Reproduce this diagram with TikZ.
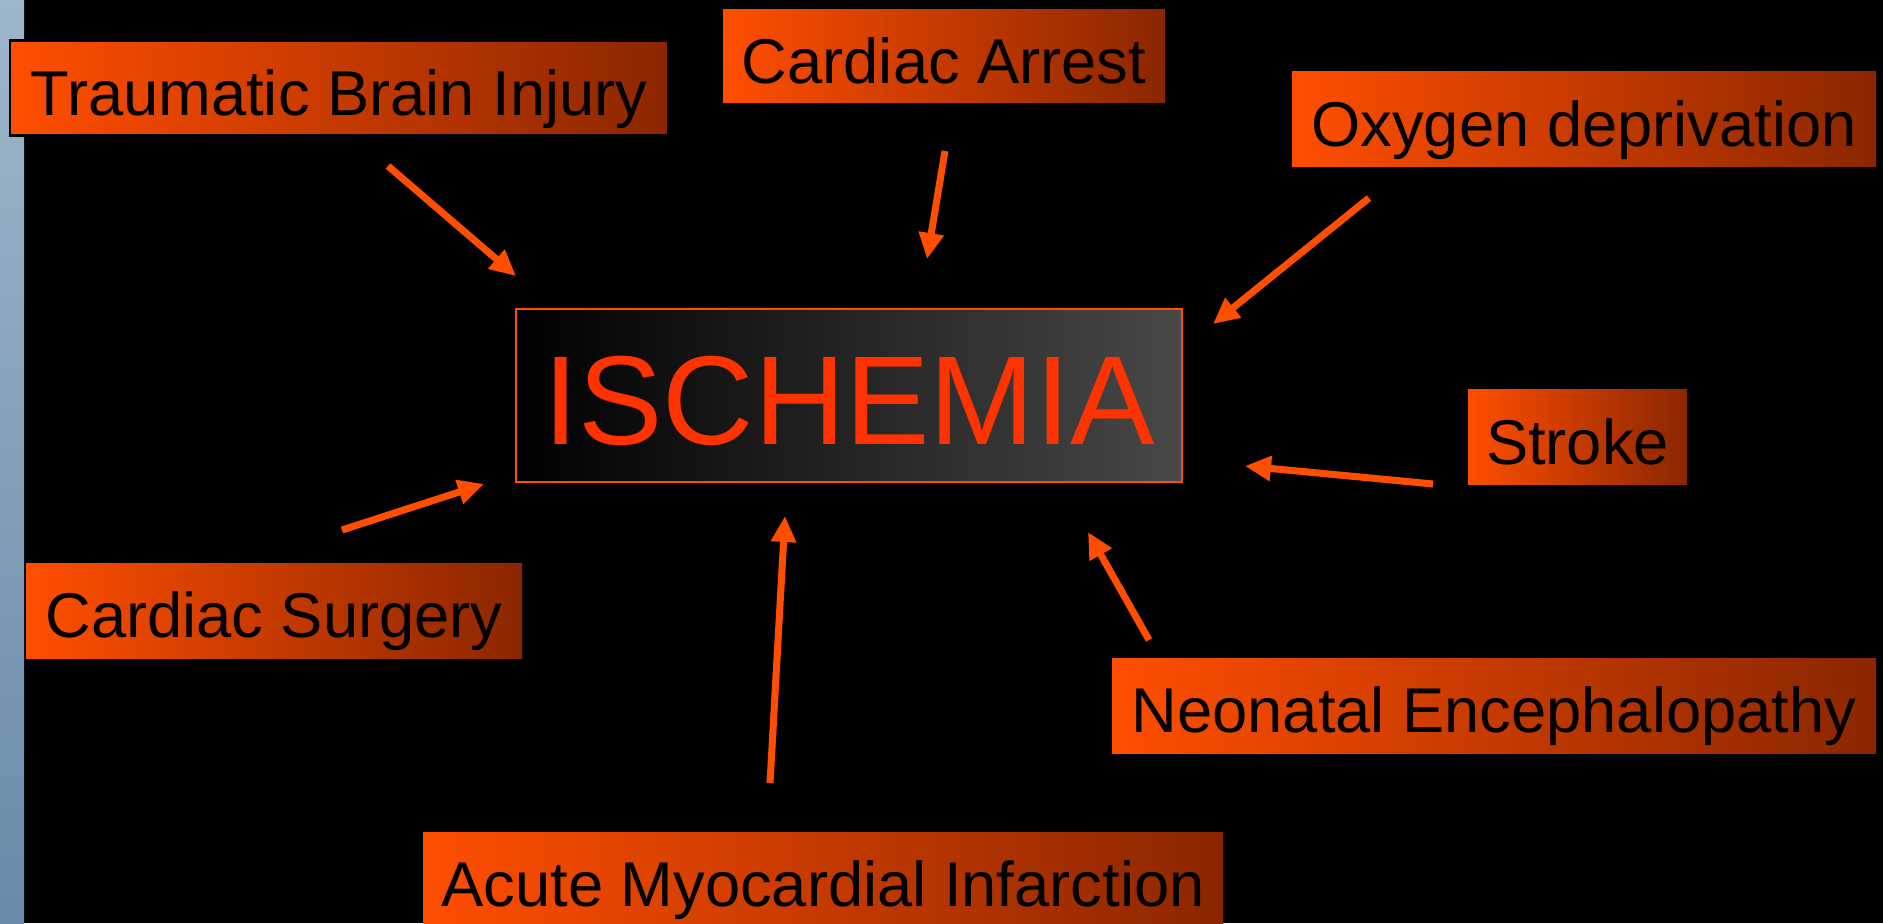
\documentclass[tikz,border=0pt]{standalone}
\usepackage{fontspec}
\setmainfont{Liberation Sans}
\usetikzlibrary{arrows.meta}

\definecolor{boxL}{RGB}{255,78,0}
\definecolor{boxR}{RGB}{139,38,0}
\definecolor{arrowC}{RGB}{255,78,0}
\definecolor{ischC}{RGB}{255,51,0}
\definecolor{ischR}{RGB}{72,72,72}
\definecolor{stripT}{RGB}{158,182,202}
\definecolor{stripB}{RGB}{104,138,168}

\begin{document}
\begin{tikzpicture}[
    cause/.style={left color=boxL, right color=boxR, inner sep=0pt, minimum height=0.95cm,
                  font=\fontsize{18}{18}\selectfont, text=black, text height=15.4pt, text depth=0pt},
    core/.style={left color=black, right color=ischR, draw=arrowC, line width=0.5pt, inner sep=0pt,
                 minimum width=6.66cm, minimum height=1.73cm, font=\fontsize{36}{36}\selectfont,
                 text=ischC, text height=28pt, text depth=0pt},
    arr/.style={-{Triangle[length=0.26cm, width=0.24cm]}, line width=2pt, draw=arrowC},
]
% Background
\useasboundingbox (0,0) rectangle (18.83,9.23);
\clip (0,0) rectangle (18.83,9.23);
\fill[black] (0,0) rectangle (18.83,9.23);
\shade[top color=stripT, bottom color=stripB] (0,0) rectangle (0.24,9.23);

% Centre
\node[core] (isch) at (8.49,5.275) {ISCHEMIA};

% Causes
\node[cause, minimum width=6.58cm, draw=black, line width=0.6pt] (tbi) at (3.39,8.35) {Traumatic Brain Injury};
\node[cause, minimum width=4.42cm, minimum height=0.93cm] (arrest) at (9.44,8.665) {Cardiac Arrest};
\node[cause, minimum width=5.84cm] (oxygen) at (15.84,8.04) {Oxygen deprivation};
\node[cause, minimum width=2.19cm] (stroke) at (15.775,4.86) {Stroke};
\node[cause, minimum width=4.96cm] (surgery) at (2.74,3.125) {Cardiac Surgery};
\node[cause, minimum width=7.64cm] (neo) at (14.94,2.175) {Neonatal Encephalopathy};
\node[cause, minimum width=8.00cm] (ami) at (8.23,0.435) {Acute Myocardial Infarction};

% Arrow ends
\coordinate (tbi_t) at (3.88,7.57);     \coordinate (tbi_h) at (5.16,6.47);
\coordinate (arrest_t) at (9.45,7.72);  \coordinate (arrest_h) at (9.27,6.64);
\coordinate (oxygen_t) at (13.69,7.25); \coordinate (oxygen_h) at (12.13,5.99);
\coordinate (stroke_t) at (14.33,4.39); \coordinate (stroke_h) at (12.45,4.57);
\coordinate (neo_t) at (11.49,2.83);    \coordinate (neo_h) at (10.88,3.91);
\coordinate (ami_t) at (7.70,1.40);     \coordinate (ami_h) at (7.85,4.07);
\coordinate (surgery_t) at (3.42,3.93); \coordinate (surgery_h) at (4.84,4.39);

% Arrows
\foreach \c in {tbi,arrest,oxygen,stroke,neo,ami,surgery}
    \draw[arr] (\c_t) -- (\c_h);
\end{tikzpicture}
\end{document}
